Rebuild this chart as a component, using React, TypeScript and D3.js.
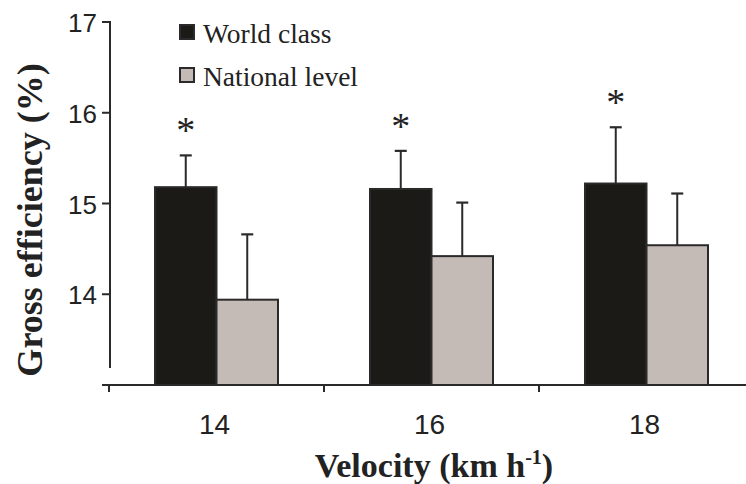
import React from "react";
import * as d3 from "d3";

// Velocity categories (km/h)
const categories = ["14", "16", "18"];
// Group means and standard deviations of gross efficiency (%)
const worldClass = [15.18, 15.16, 15.22];
const worldClassSD = [0.35, 0.42, 0.62];
const nationalLevel = [13.94, 14.42, 14.54];
const nationalLevelSD = [0.72, 0.59, 0.57];
// Significant difference between groups at each velocity
const significant = [true, true, true];
const yTicks = [14, 15, 16, 17];
const seriesNames = ["World class", "National level"];

const W = 746;
const H = 484;
const SERIF = "'Liberation Serif', 'Times New Roman', serif";
const SANS = "'Liberation Sans', Arial, sans-serif";
const INK = "#2a2a2a";
const COLORS = ["#1c1a17", "#c4bab6"];

export default function App() {
  const y = d3.scaleLinear().domain([13, 17]).range([385, 22]);
  const x = d3.scaleBand<string>().domain(categories).range([109, 754]).padding(0);
  const barW = 61.5;

  const series = [
    { name: seriesNames[0], values: worldClass, sd: worldClassSD, color: COLORS[0] },
    { name: seriesNames[1], values: nationalLevel, sd: nationalLevelSD, color: COLORS[1] },
  ];

  const axisX = 110;
  const baseY = 385;

  return (
    <svg
      width={W}
      height={H}
      style={{ position: "absolute", left: 0, top: 0, background: "#fff" }}
    >
      {/* bars with error bars */}
      {categories.map((c, i) => {
        const center = (x(c) as number) + x.bandwidth() / 2;
        const inner = d3
          .scaleBand<string>()
          .domain(seriesNames)
          .range([center - barW, center + barW]);
        return (
          <g key={c}>
            {series.map((s) => {
              const bx = inner(s.name) as number;
              const top = y(s.values[i]);
              const errTop = y(s.values[i] + s.sd[i]);
              const cx = bx + inner.bandwidth() / 2;
              return (
                <g key={s.name}>
                  <line x1={cx} x2={cx} y1={top} y2={errTop} stroke={INK} strokeWidth={2} />
                  <line x1={cx - 6} x2={cx + 6} y1={errTop} y2={errTop} stroke={INK} strokeWidth={2.2} />
                  <rect
                    x={bx}
                    y={top}
                    width={inner.bandwidth()}
                    height={baseY - top}
                    fill={s.color}
                    stroke={INK}
                    strokeWidth={2}
                  />
                </g>
              );
            })}
            {significant[i] && (
              <text
                x={(inner(seriesNames[0]) as number) + inner.bandwidth() / 2}
                y={y(worldClass[i] + worldClassSD[i]) - 12}
                textAnchor="middle"
                fontFamily={SERIF}
                fontSize={38}
                fill="#222"
              >
                *
              </text>
            )}
          </g>
        );
      })}

      {/* y axis */}
      <line x1={axisX} x2={axisX} y1={y(17) - 1} y2={368} stroke={INK} strokeWidth={2} />
      {yTicks.map((t) => (
        <g key={t}>
          <line x1={axisX - 8} x2={axisX} y1={y(t)} y2={y(t)} stroke={INK} strokeWidth={2} />
          <text
            x={97}
            y={y(t) + 10}
            textAnchor="end"
            fontFamily={SANS}
            fontSize={26}
            fill="#222"
          >
            {t}
          </text>
        </g>
      ))}

      {/* x axis */}
      <line x1={102} x2={W} y1={baseY} y2={baseY} stroke={INK} strokeWidth={2} />
      {categories.map((c) => (
        <line
          key={"t" + c}
          x1={x(c) as number}
          x2={x(c) as number}
          y1={baseY}
          y2={baseY + 7}
          stroke={INK}
          strokeWidth={2}
        />
      ))}
      {categories.map((c) => (
        <text
          key={"l" + c}
          x={(x(c) as number) + x.bandwidth() / 2 - 2}
          y={434}
          textAnchor="middle"
          fontFamily={SANS}
          fontSize={28}
          fill="#222"
        >
          {c}
        </text>
      ))}

      {/* axis titles */}
      <text
        x={434}
        y={477}
        textAnchor="middle"
        fontFamily={SERIF}
        fontWeight="bold"
        fontSize={34}
        fill="#222"
      >
        Velocity (km h
        <tspan fontSize={20} dy={-13}>
          -1
        </tspan>
        <tspan dy={13}>)</tspan>
      </text>
      <text
        transform="translate(42,220) rotate(-90)"
        textAnchor="middle"
        fontFamily={SERIF}
        fontWeight="bold"
        fontSize={36}
        fill="#222"
      >
        Gross efficiency (%)
      </text>

      {/* legend */}
      {series.map((s, i) => (
        <g key={"lg" + s.name} transform={`translate(180,${25 + i * 43})`}>
          <rect x={0} y={0} width={14} height={14} fill={s.color} stroke={INK} strokeWidth={2} />
          <text x={23} y={18} fontFamily={SERIF} fontSize={27.5} fill="#222">
            {s.name}
          </text>
        </g>
      ))}
    </svg>
  );
}
